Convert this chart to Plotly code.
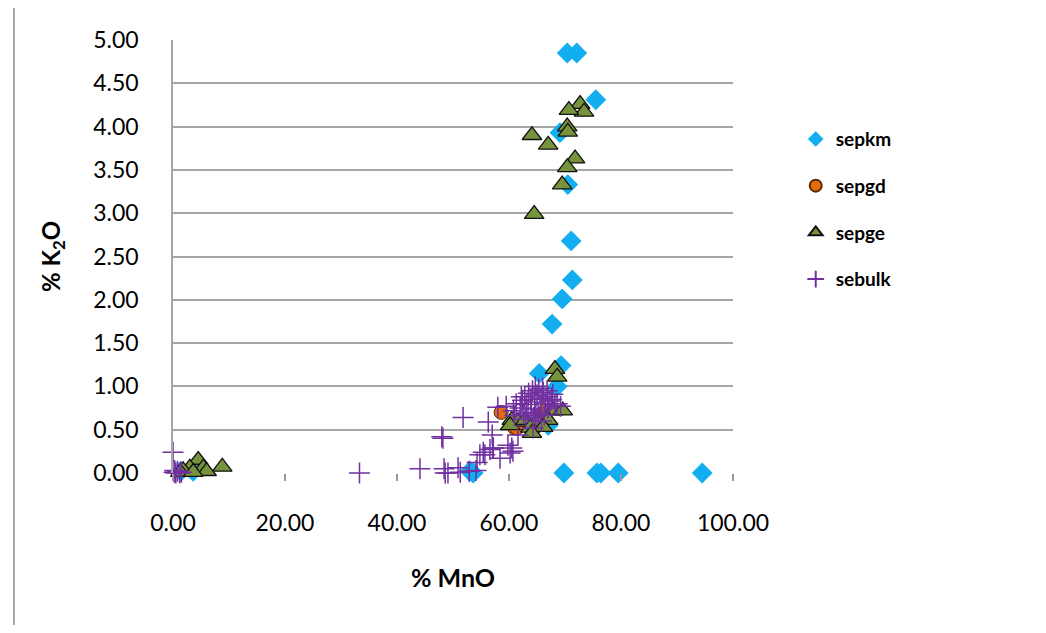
import plotly.graph_objects as go

# sepkm (blue diamonds)
sepkm_x = [70.4, 72.1, 75.5, 69.1, 70.5, 71.1, 71.3, 69.5, 67.7, 69.3, 65.4, 68.6, 67.0,
           53.0, 53.6, 69.8, 75.7, 76.4, 79.5, 94.5, 1.4, 3.6]
sepkm_y = [4.85, 4.85, 4.31, 3.93, 3.33, 2.68, 2.23, 2.01, 1.72, 1.24, 1.15, 1.00, 0.55,
           0.02, 0.00, 0.00, 0.00, 0.00, 0.00, 0.00, 0.02, 0.02]

# sepgd (orange circles)
sepgd_x = [58.6, 61.0, 61.4, 66.0, 66.6, 62.5]
sepgd_y = [0.70, 0.52, 0.52, 0.69, 0.72, 0.58]

# sepge (green triangles)
sepge_x = [72.7, 73.4, 70.7, 70.4, 70.5, 64.1, 67.0, 71.8, 70.4, 69.5, 64.5,
           68.2, 68.6, 67.9, 69.6, 67.0, 60.5, 61.6, 62.9, 65.0, 63.8, 66.1, 60.2, 64.1,
           4.5, 8.8, 3.0, 5.4, 1.8, 1.3, 6.0, 3.6]
sepge_y = [4.26, 4.17, 4.19, 4.00, 3.94, 3.90, 3.79, 3.63, 3.53, 3.33, 2.99,
           1.20, 1.11, 0.72, 0.72, 0.61, 0.61, 0.59, 0.61, 0.59, 0.52, 0.53, 0.55, 0.46,
           0.15, 0.07, 0.06, 0.06, 0.03, 0.01, 0.02, 0.01]

# sebulk (purple crosses)
sebulk_x = [0.0, 0.2, 0.5, 0.8, 1.2, 0.3, 1.5, 33.3, 44.1, 48.4, 48.6, 49.1, 50.9, 51.3,
            48.0, 48.2, 51.8, 54.1, 54.3, 54.8, 55.4, 56.6, 57.1, 56.3, 57.0, 58.0,
            58.4, 59.8, 60.5, 60.2, 61.6, 64.3, 55.7, 60.7, 57.2, 52.9,
            59.5, 60.8, 61.3, 62.0, 62.4, 62.8, 63.1, 63.5, 63.9, 64.2, 64.6, 65.0, 65.3,
            65.7, 66.1, 66.5, 66.9, 67.3, 67.8, 68.2, 62.6, 63.4, 64.0, 64.8, 65.6, 66.3,
            67.0, 67.6, 63.0, 64.4, 65.2, 66.0, 66.8, 62.2, 61.0, 68.6, 69.2, 65.8, 64.7]
sebulk_y = [0.24, 0.01, 0.00, 0.02, 0.00, 0.03, 0.01, 0.00, 0.05, 0.05, 0.00, 0.00, 0.06, 0.01,
            0.42, 0.40, 0.64, 0.03, 0.12, 0.21, 0.24, 0.27, 0.29, 0.59, 0.44, 0.76,
            0.17, 0.32, 0.29, 0.23, 0.44, 0.52, 0.21, 0.25, 0.29, 0.02,
            0.77, 0.72, 0.80, 0.75, 0.84, 0.88, 0.79, 0.92, 0.85, 0.95, 0.82, 0.90, 0.97,
            0.86, 0.93, 0.80, 0.88, 0.83, 0.91, 0.78, 0.68, 0.70, 0.74, 0.66, 0.72, 0.67,
            0.75, 0.85, 0.62, 0.64, 0.69, 0.98, 0.95, 0.88, 0.66, 0.80, 0.77, 0.60, 1.00]

fig = go.Figure()
fig.add_trace(go.Scatter(x=sepkm_x, y=sepkm_y, mode="markers", name="sepkm", legendgroup="a",
                         cliponaxis=False,
                         marker=dict(symbol="diamond", size=16, color="#12AEEF",
                                     line=dict(width=0))))
fig.add_trace(go.Scatter(x=sepgd_x, y=sepgd_y, mode="markers", name="sepgd", legendgroup="b",
                         cliponaxis=False,
                         marker=dict(symbol="circle", size=14, color="#E46C0A",
                                     line=dict(width=1, color="#5a2a05"))))
fig.add_trace(go.Scatter(x=sepge_x, y=sepge_y, mode="markers", name="sepge", legendgroup="c",
                         cliponaxis=False,
                         marker=dict(symbol="triangle-up", size=17, color="#77933C",
                                     line=dict(width=1.3, color="#111111"))))
fig.add_trace(go.Scatter(x=sebulk_x, y=sebulk_y, mode="markers", name="sebulk", legendgroup="d",
                         cliponaxis=False,
                         marker=dict(symbol="cross-thin", size=15, color="#7030A0",
                                     line=dict(width=1.5, color="#7030A0"))))

fig.update_layout(
    width=1030, height=617,
    margin=dict(l=165, r=305, t=32, b=152),
    paper_bgcolor="white", plot_bgcolor="white",
    font=dict(family="Lato, Carlito, Calibri, sans-serif", size=23, color="#000000"),
    showlegend=True,
    legend=dict(x=1.112, y=0.815, xanchor="left", yanchor="top",
                font=dict(size=19, family="Lato, sans-serif", color="#000000", weight="bold"),
                itemsizing="constant", tracegroupgap=19, itemwidth=30,
                bgcolor="rgba(0,0,0,0)"),
    xaxis=dict(range=[0, 100], tickvals=[0, 20, 40, 60, 80, 100],
               ticktext=["0.00", "20.00", "40.00", "60.00", "80.00", "100.00"],
               showgrid=False, zeroline=False, showline=False,
               ticks="outside", ticklen=7, tickcolor="#999999", tickwidth=1.5,
               ticklabelstandoff=22,
               title=dict(text="% MnO", font=dict(size=25, weight="bold"), standoff=34)),
    yaxis=dict(range=[0, 5], tickvals=[0, 0.5, 1, 1.5, 2, 2.5, 3, 3.5, 4, 4.5, 5],
               ticktext=["0.00", "0.50", "1.00", "1.50", "2.00", "2.50", "3.00", "3.50",
                         "4.00", "4.50", "5.00"],
               showgrid=True, gridcolor="#a6a6a6", gridwidth=1.5,
               zeroline=False, showline=True, linecolor="#a6a6a6", linewidth=1.5,
               ticks="", ticklen=0, ticklabelstandoff=28,
               title=dict(text="% K<sub>2</sub>O", font=dict(size=24, weight="bold"), standoff=26)),
)
fig.add_shape(type="line", xref="paper", yref="paper", x0=-0.284, x1=-0.284, y0=-0.4, y1=1.1,
              line=dict(color="#8c8c8c", width=1.5))
fig.write_html("out.html")
